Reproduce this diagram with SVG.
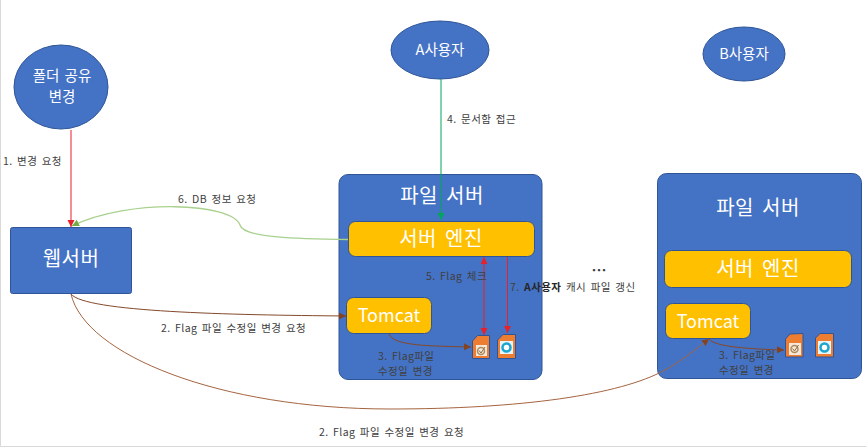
<svg xmlns="http://www.w3.org/2000/svg" width="867" height="447" viewBox="0 0 867 447">
<style>
text{font-family:"Noto Sans CJK KR","Noto Sans",sans-serif}
.lbl{font-size:10.5px;fill:#404040;letter-spacing:.4px;word-spacing:1.800px}
.b{fill:#4472c4;stroke:#2f5597;stroke-width:1}
.y{fill:#ffc000;stroke:#2f5597;stroke-width:1}
.w{fill:#fff;text-anchor:middle}
.t{font-size:20px;word-spacing:3px;letter-spacing:.5px}
.e{font-size:14.500px;word-spacing:2px}
.c{fill:none;stroke-width:1}
.br{stroke:#84492a}.lb{stroke:#a5643f}.rd{stroke:#e8202a}.gr{stroke:#a9d18e;stroke-width:1.300}
.doc{fill:#ed7d31;stroke:#2f5597;stroke-width:1}
</style>
<defs>
<marker id="mb" markerWidth="8" markerHeight="8" refX="7" refY="3.5" orient="auto" markerUnits="userSpaceOnUse"><path d="M0 0L7 3.5L0 7z" fill="#84421f"/></marker>
<marker id="mr" markerWidth="8" markerHeight="8" refX="7" refY="3.5" orient="auto-start-reverse" markerUnits="userSpaceOnUse"><path d="M0 0L7 3.5L0 7z" fill="#e8202a"/></marker>
<marker id="mg" markerWidth="8" markerHeight="8" refX="7" refY="3.5" orient="auto" markerUnits="userSpaceOnUse"><path d="M0 0L7 3.5L0 7z" fill="#00a65a"/></marker>
<marker id="ml" markerWidth="8" markerHeight="8" refX="7" refY="3.5" orient="auto" markerUnits="userSpaceOnUse"><path d="M0 0L7 3.5L0 7z" fill="#70ad47"/></marker>
</defs>
<rect x="0" y="0" width="867" height="447" fill="#fff"/>
<path d="M.5 0V446.500H866.500" fill="none" stroke="#d9d9d9" stroke-width="1"/>

<g id="folder-change"><ellipse class="b" cx="61" cy="87" rx="47" ry="42"/><text class="w e" x="62" y="81">폴더 공유</text><text class="w e" x="62" y="102">변경</text></g>
<g id="user-a"><ellipse class="b" cx="440" cy="50" rx="49" ry="29"/><text class="w e" x="440" y="55">A사용자</text></g>
<g id="user-b"><ellipse class="b" cx="744" cy="54" rx="41" ry="27"/><text class="w e" x="744" y="59">B사용자</text></g>
<g id="web-server"><rect class="b" x="10.500" y="227.500" width="121" height="66" rx="2"/><text class="w t" x="71" y="266">웹서버</text></g>

<g id="file-server-a"><rect class="b" x="339" y="174.500" width="203" height="205" rx="9"/><text class="w t" x="442" y="203">파일 서버</text>
<g id="engine-a"><rect class="y" x="348.500" y="221.500" width="186" height="35" rx="7"/><text class="w t" x="441" y="246">서버 엔진</text></g>
<g id="tomcat-a"><rect class="y" x="346.500" y="297.500" width="85" height="36" rx="7"/><text class="w" font-size="18" x="389" y="322">Tomcat</text></g>
<g id="flag-a"><path class="doc" d="M477.500 335.500L472.500 341V358.500H489.500V335.500z"/><rect x="476" y="345" width="11" height="11" fill="#f6e9dc"/><circle cx="481" cy="351" r="3.500" fill="none" stroke="#b08a5a" stroke-width="1.500"/><path d="M479 350.500L481 353L485 347" fill="none" stroke="#8a6a3a" stroke-width="1"/></g>
<g id="cache-a"><path class="doc" d="M503 334.500L497.500 340V358.500H515.500V334.500z"/><rect x="500" y="341" width="13" height="13" fill="#e5f5fa"/><circle cx="506.500" cy="347.500" r="4" fill="#fff" stroke="#1ea5cf" stroke-width="2.500"/></g>
</g>

<g id="file-server-b"><rect class="b" x="657.500" y="173.500" width="204" height="205" rx="9"/><text class="w t" x="758" y="215">파일 서버</text>
<g id="engine-b"><rect class="y" x="664.500" y="250.500" width="187" height="37" rx="7"/><text class="w t" x="758" y="276">서버 엔진</text></g>
<g id="tomcat-b"><rect class="y" x="665.500" y="303.500" width="85" height="35" rx="7"/><text class="w" font-size="18" x="708" y="328">Tomcat</text></g>
<g id="flag-b"><path class="doc" d="M790 334L785.500 339V357H803V333.500z"/><rect x="789" y="343" width="12" height="12" fill="#f6e9dc"/><circle cx="794.500" cy="349" r="3.500" fill="none" stroke="#b08a5a" stroke-width="1.500"/><path d="M792.500 348.500L794.500 351L798.500 345" fill="none" stroke="#8a6a3a" stroke-width="1"/></g>
<g id="cache-b"><path class="doc" d="M820 333.500L815.500 338V357H833.500V333.500z"/><rect x="818" y="341" width="13" height="13" fill="#e5f5fa"/><circle cx="824.500" cy="347.500" r="4" fill="#fff" stroke="#1ea5cf" stroke-width="2.500"/></g>
</g>

<g id="connectors">
<path class="c rd" d="M71 130V227" marker-end="url(#mr)"/>
<path class="c gr" d="M348 239.500C300 239 243 238 240 225C232 203 130 198 72 226" marker-end="url(#ml)"/>
<path class="c" stroke="#00a65a" d="M441 79V220" marker-end="url(#mg)"/>
<path class="c br" d="M71 294C85 312 230 315 346 316" marker-end="url(#mb)"/>
<path class="c lb" d="M71 294C85 355 220 409 390 409C520 409 620 395 665 370C680 362 695 350 709 339" marker-end="url(#mb)"/>
<path class="c br" d="M389 334C393 346 430 346 471 347" marker-end="url(#mb)"/>
<path class="c br" d="M709 339C715 347 750 349 784 350" marker-end="url(#mb)"/>
<path class="c rd" d="M484 257V335" marker-start="url(#mr)" marker-end="url(#mr)"/>
<path class="c rd" d="M507.500 257V333" marker-end="url(#mr)"/>
</g>

<g id="labels">
<text class="lbl" x="3" y="165">1. 변경 요청</text>
<text class="lbl" x="447" y="123">4. 문서함 접근</text>
<text class="lbl" x="178" y="203">6. DB 정보 요청</text>
<text class="lbl" x="161" y="332">2. Flag 파일 수정일 변경 요청</text>
<text class="lbl" x="319" y="436">2. Flag 파일 수정일 변경 요청</text>
<text class="lbl" x="426" y="280">5. Flag 체크</text>
<text class="lbl" x="510" y="291">7. <tspan font-weight="700" fill="#262626">A사용자</tspan> 캐시 파일 갱신</text>
<text class="lbl" x="378" y="359.500">3. Flag파일</text>
<text class="lbl" x="378" y="375">수정일 변경</text>
<text class="lbl" x="719" y="358.500">3. Flag파일</text>
<text class="lbl" x="719" y="374">수정일 변경</text>
<text x="599" y="276" font-size="15" font-weight="700" fill="#404040" text-anchor="middle">…</text>
</g>
</svg>
